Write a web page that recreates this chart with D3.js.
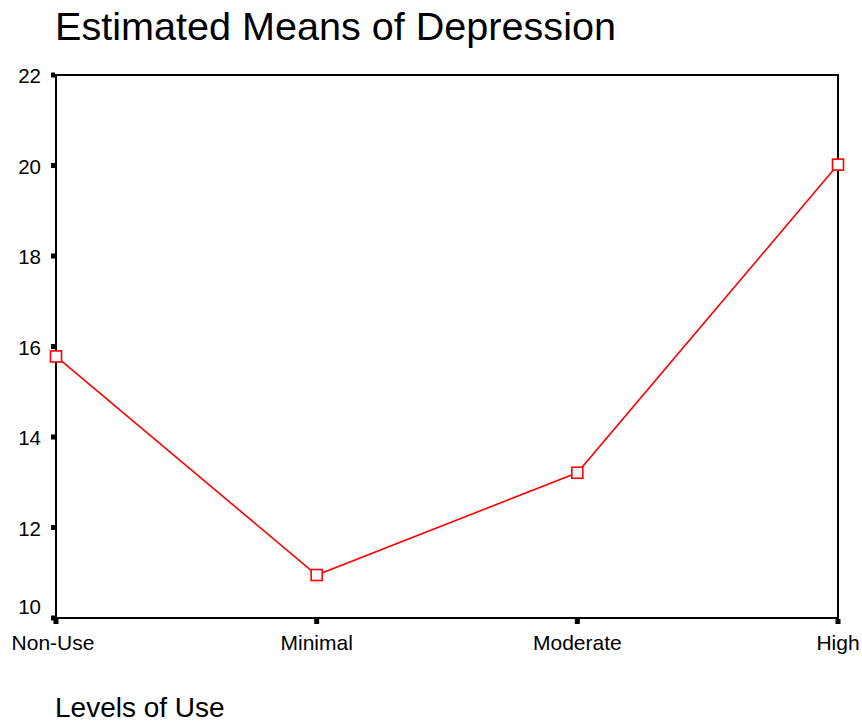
<!DOCTYPE html>
<html>
<head>
<meta charset="utf-8">
<script src="https://cdn.jsdelivr.net/npm/d3@7"></script>
<style>
  html, body { margin: 0; padding: 0; background: #fff; }
  svg { display: block; font-family: "Liberation Sans", Arial, sans-serif; }
</style>
</head>
<body>
<svg id="chart" width="862" height="725"></svg>
<script>
const categories = ["Non-Use", "Minimal", "Moderate", "High"];
const means = [15.78, 10.95, 13.21, 20.02];
const yTicks = [10, 12, 14, 16, 18, 20, 22];
const title = "Estimated Means of Depression";
const xTitle = "Levels of Use";

const svg = d3.select("#chart");
const pLeft = 56, pRight = 838, pTop = 75, pBottom = 618;

const x = d3.scalePoint().domain(categories).range([pLeft, pRight]).padding(0);
const y = d3.scaleLinear().domain([10, 22]).range([pBottom, pTop]);

// title
svg.append("text").attr("x", 55).attr("y", 39.5)
  .attr("font-size", 39.6).attr("fill", "#000").text(title);

// frame
svg.append("rect").attr("x", pLeft).attr("y", pTop)
  .attr("width", pRight - pLeft).attr("height", pBottom - pTop)
  .attr("fill", "none").attr("stroke", "#000").attr("stroke-width", 2);

// y ticks
const yg = svg.append("g");
yTicks.forEach(t => {
  yg.append("rect").attr("x", pLeft - 5).attr("y", y(t) - 2.5)
    .attr("width", 4).attr("height", 5).attr("fill", "#000");
  const ly = t === 10 ? y(t) - 9 : y(t) + 3;
  yg.append("text").attr("x", 41).attr("y", ly)
    .attr("text-anchor", "end").attr("dominant-baseline", "middle")
    .attr("font-size", 20.5).attr("fill", "#000").text(t);
});

// x ticks
const xg = svg.append("g");
categories.forEach(c => {
  xg.append("rect").attr("x", x(c) - 2.5).attr("y", pBottom + 1)
    .attr("width", 5).attr("height", 5).attr("fill", "#000");
  xg.append("text").attr("x", c === "Non-Use" ? x(c) - 3 : x(c)).attr("y", 650)
    .attr("text-anchor", "middle").attr("font-size", 21).attr("fill", "#000").text(c);
});

// x title
svg.append("text").attr("x", 55).attr("y", 717)
  .attr("font-size", 28).attr("fill", "#000").text(xTitle);

// line
const data = categories.map((c, i) => ({c, v: means[i]}));
svg.append("path").datum(data)
  .attr("d", d3.line().x(d => x(d.c)).y(d => y(d.v)))
  .attr("fill", "none").attr("stroke", "#ff0000").attr("stroke-width", 1.6);

svg.append("g").selectAll("rect").data(data).join("rect")
  .attr("x", d => x(d.c) - 5.5).attr("y", d => y(d.v) - 5.5)
  .attr("width", 11).attr("height", 11)
  .attr("fill", "#fff").attr("stroke", "#ff0000").attr("stroke-width", 1.6);
</script>
</body>
</html>
